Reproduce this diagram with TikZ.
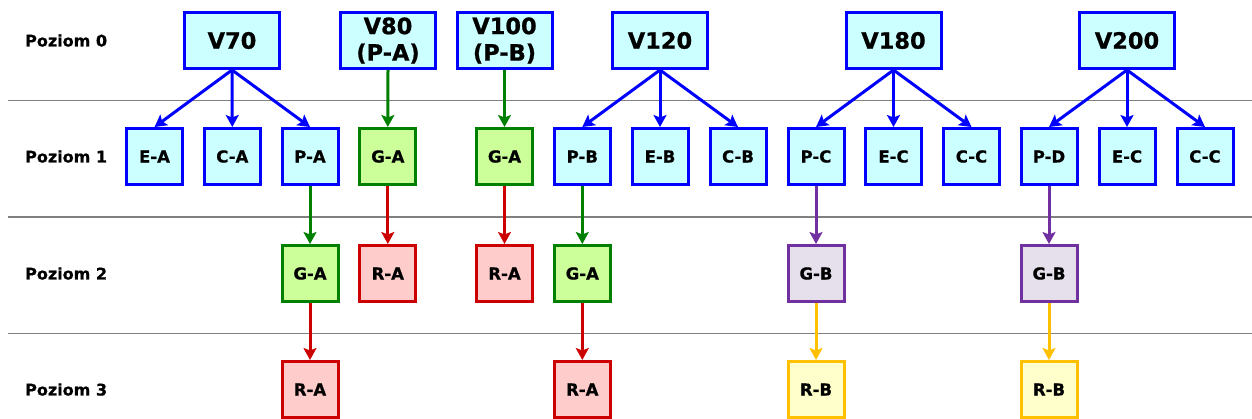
\documentclass[tikz,border=0pt]{standalone}
\usepackage{fontspec}
\setmainfont{DejaVu Sans}[BoldFeatures={FakeBold=0.8}]
\usetikzlibrary{arrows.meta}
\definecolor{cfill}{HTML}{CCFFFF}
\definecolor{cline}{HTML}{0000FF}
\definecolor{gfill}{HTML}{CCFF99}
\definecolor{gline}{HTML}{008000}
\definecolor{rfill}{HTML}{FFCCCC}
\definecolor{rline}{HTML}{CC0000}
\definecolor{pfill}{HTML}{E5E0EC}
\definecolor{pline}{HTML}{7030A0}
\definecolor{yfill}{HTML}{FFFFCC}
\definecolor{yline}{HTML}{FFC000}
\tikzset{
  box/.style={draw, line width=3pt, minimum width=56pt, minimum height=56pt, inner sep=0pt, font=\fontsize{16.5}{19}\selectfont\bfseries, align=center},
  topbox/.style={box, draw=cline, fill=cfill, minimum width=95pt, font=\fontsize{22.5}{26.5}\selectfont\bfseries},
  cbox/.style={box, draw=cline, fill=cfill},
  gbox/.style={box, draw=gline, fill=gfill},
  rbox/.style={box, draw=rline, fill=rfill},
  pbox/.style={box, draw=pline, fill=pfill},
  ybox/.style={box, draw=yline, fill=yfill},
  arr/.style={line width=3pt, -{Stealth[length=12pt,width=13pt,inset=2.5pt]}},
  level/.style={anchor=west, inner sep=0pt, font=\fontsize{16}{19}\selectfont\bfseries},
  sep/.style={draw=black!50, line width=1.5pt}
}
\begin{document}
\begin{tikzpicture}[x=1pt,y=-1pt]
\useasboundingbox (0,0) rectangle (1252,418);
\clip (0,0) rectangle (1252,418);
% separators
\coordinate (s1a) at (8,100.5); \coordinate (s1b) at (1252,100.5);
\coordinate (s2a) at (8,217); \coordinate (s2b) at (1252,217);
\coordinate (s3a) at (8,333.5); \coordinate (s3b) at (1252,333.5);
\draw[sep] (s1a) -- (s1b);
\draw[sep] (s2a) -- (s2b);
\draw[sep] (s3a) -- (s3b);
% level labels
\node[level] (L0) at (25,40.5) {Poziom 0};
\node[level] (L1) at (25,156.5) {Poziom 1};
\node[level] (L2) at (25,273.5) {Poziom 2};
\node[level] (L3) at (25,389.5) {Poziom 3};
% level 0
\node[topbox] (V70) at (232,40.5) {V70};
\node[topbox] (V80) at (388,40.5) {V80\\(P-A)};
\node[topbox] (V100) at (504.5,40.5) {V100\\(P-B)};
\node[topbox] (V120) at (660,40.5) {V120};
\node[topbox] (V180) at (893.5,40.5) {V180};
\node[topbox] (V200) at (1127,40.5) {V200};
% level 1
\node[cbox] (EA1) at (154.5,156.5) {E-A};
\node[cbox] (CA1) at (232.3,156.5) {C-A};
\node[cbox] (PA1) at (310,156.5) {P-A};
\node[gbox] (GA1) at (387.8,156.5) {G-A};
\node[gbox] (GA2) at (504.5,156.5) {G-A};
\node[cbox] (PB1) at (582.3,156.5) {P-B};
\node[cbox] (EB1) at (660,156.5) {E-B};
\node[cbox] (CB1) at (738,156.5) {C-B};
\node[cbox] (PC1) at (816,156.5) {P-C};
\node[cbox] (EC1) at (893.5,156.5) {E-C};
\node[cbox] (CC1) at (971.5,156.5) {C-C};
\node[cbox] (PD1) at (1049,156.5) {P-D};
\node[cbox] (EC2) at (1127,156.5) {E-C};
\node[cbox] (CC2) at (1205,156.5) {C-C};
% level 2
\node[gbox] (GA3) at (310,273.5) {G-A};
\node[rbox] (RA1) at (387.8,273.5) {R-A};
\node[rbox] (RA2) at (504.5,273.5) {R-A};
\node[gbox] (GA4) at (582.3,273.5) {G-A};
\node[pbox] (GB1) at (816,273.5) {G-B};
\node[pbox] (GB2) at (1049,273.5) {G-B};
% level 3
\node[rbox] (RA3) at (310,389.5) {R-A};
\node[rbox] (RA4) at (582.3,389.5) {R-A};
\node[ybox] (RB1) at (816,389.5) {R-B};
\node[ybox] (RB2) at (1049,389.5) {R-B};
% connectors
\foreach \s/\t in {V70/EA1,V70/CA1,V70/PA1,V120/PB1,V120/EB1,V120/CB1,V180/PC1,V180/EC1,V180/CC1,V200/PD1,V200/EC2,V200/CC2}
  \draw[arr, cline] (\s.south) -- (\t.north);
\foreach \s/\t in {V80/GA1,V100/GA2,PA1/GA3,PB1/GA4}
  \draw[arr, gline] (\s.south) -- (\t.north);
\foreach \s/\t in {GA1/RA1,GA2/RA2,GA3/RA3,GA4/RA4}
  \draw[arr, rline] (\s.south) -- (\t.north);
\foreach \s/\t in {PC1/GB1,PD1/GB2}
  \draw[arr, pline] (\s.south) -- (\t.north);
\foreach \s/\t in {GB1/RB1,GB2/RB2}
  \draw[arr, yline] (\s.south) -- (\t.north);
\end{tikzpicture}
\end{document}
